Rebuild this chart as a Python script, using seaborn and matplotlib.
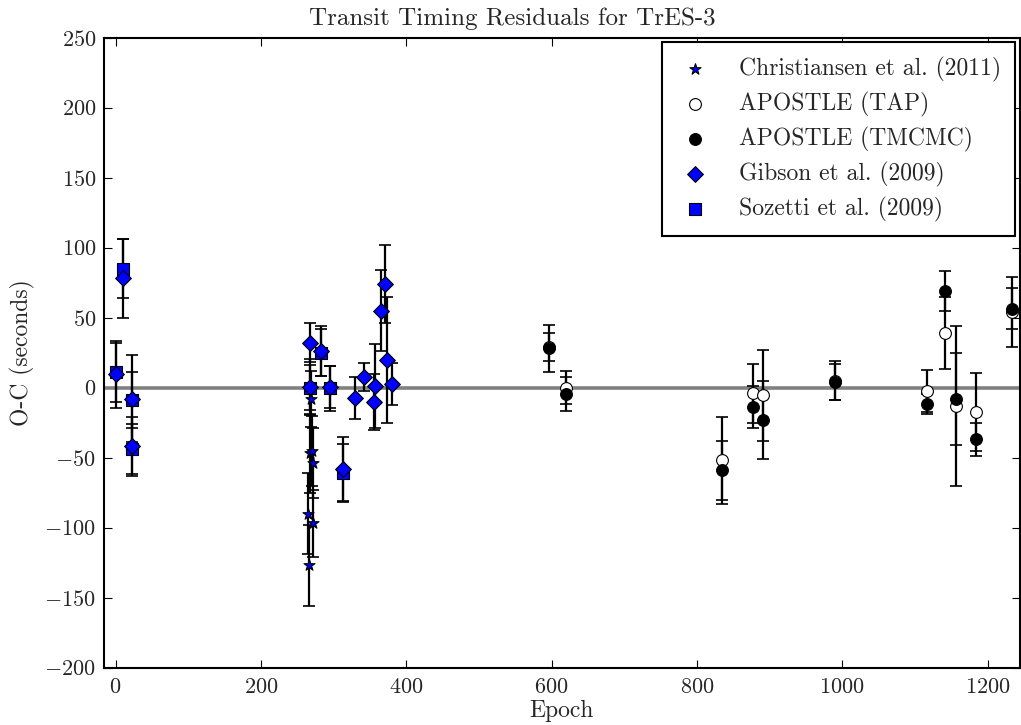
import numpy as np
import pandas as pd
import seaborn as sns
import matplotlib
matplotlib.use("Agg")
import matplotlib.pyplot as plt

# Christiansen et al. (2011)
chr_epoch = [265, 266, 268, 269, 270, 271, 272]
chr_oc = [-90, -127, -47, -8, -45, -97, -54]
chr_err = [29, 29, 28, 20, 25, 24, 25]

# APOSTLE (TAP)
tap_epoch = [597, 620, 835, 877, 891, 990, 1116, 1142, 1156, 1184, 1234]
tap_oc = [29, 0, -52, -4, -5.5, 5, -2.7, 39, -13, -17.5, 54]
tap_err = [10, 12, 31, 21, 32.5, 14, 15, 26, 57, 28, 25]

# APOSTLE (TMCMC)
mc_epoch = [597, 620, 835, 877, 891, 990, 1116, 1142, 1156, 1184, 1234]
mc_oc = [28, -4.5, -59, -13.5, -23, 4, -11.5, 69, -8, -37, 56.5]
mc_err = [17, 12, 21, 15, 28, 13, 7, 14, 33, 12, 14.5]

# Gibson et al. (2009)
gib_epoch = [0, 10, 23, 23, 267, 282, 268, 295, 313, 329, 342, 357, 355, 365, 371, 373, 381]
gib_oc = [9.5, 78, -8, -42, 32, 26, 0.5, 0.5, -58, -7.5, 7.5, 1.5, -10.5, 55, 74, 19.5, 2.5]
gib_err = [24, 28, 31, 21, 14, 18, 20, 15, 23, 15, 10, 30, 20, 29, 28, 45, 15]

# Sozetti et al. (2009)
soz_epoch = [0, 10, 23, 23, 268, 282, 295, 313]
soz_oc = [11, 85, -9, -44, 0, 25, -0.5, -61]
soz_err = [21, 21, 20, 18, 16, 17, 16, 21]

sns.set_style("ticks")
plt.rcParams['font.family'] = ['cmr10', 'DejaVu Serif']
plt.rcParams['mathtext.fontset'] = 'cm'
plt.rcParams['axes.formatter.use_mathtext'] = True
plt.rcParams['axes.unicode_minus'] = True

fig = plt.figure(figsize=(10.21, 7.25), dpi=100)
ax = fig.add_axes([0.1022, 0.079, 0.8964, 0.8692])

ax.axhline(0, color='gray', lw=2.6, zorder=1)

sets = [
    ("Sozetti et al. (2009)", soz_epoch, soz_oc, soz_err, 's', 'blue', 64),
    ("Gibson et al. (2009)", gib_epoch, gib_oc, gib_err, 'D', 'blue', 64),
    ("APOSTLE (TAP)", tap_epoch, tap_oc, tap_err, 'o', 'white', 72),
    ("APOSTLE (TMCMC)", mc_epoch, mc_oc, mc_err, 'o', 'black', 72),
    ("Christiansen et al. (2011)", chr_epoch, chr_oc, chr_err, '*', 'blue', 70),
]

handles = {}
for i, (name, ep, oc, err, mk, col, size) in enumerate(sets):
    ax.errorbar(ep, oc, yerr=err, fmt='none', ecolor='black', elinewidth=1.6,
                capsize=4.3, capthick=1.2, zorder=2)
    df = pd.DataFrame({"Epoch": ep, "OC": oc})
    sns.scatterplot(data=df, x="Epoch", y="OC", marker=mk, color=col, s=size,
                    edgecolor='black', linewidth=0.8, ax=ax, zorder=3 + i,
                    label=name, legend=False)
    handles[name] = ax.collections[-1]

order = ["Christiansen et al. (2011)", "APOSTLE (TAP)", "APOSTLE (TMCMC)",
         "Gibson et al. (2009)", "Sozetti et al. (2009)"]
leg = ax.legend([handles[n] for n in order], order, loc='upper right', fontsize=17,
                frameon=True, fancybox=False, framealpha=1, edgecolor='black',
                borderaxespad=0.2, handlelength=1.6, handletextpad=1.05,
                labelspacing=0.42, borderpad=0.6, scatterpoints=1)
leg.get_frame().set_linewidth(1.5)

ax.set_xlim(-15.5, 1244)
ax.set_ylim(-200, 250)
ax.set_xticks(np.arange(0, 1201, 200))
ax.set_yticks(np.arange(-200, 251, 50))
ax.tick_params(direction='in', top=True, right=True, length=6, width=0.8,
               labelsize=16, color='black')
ax.tick_params(axis='x', pad=7)
ax.tick_params(axis='y', pad=6)
for sp in ax.spines.values():
    sp.set_linewidth(1.5)
    sp.set_color('black')

ax.set_xlabel("Epoch", fontsize=17, labelpad=2)
ax.set_ylabel("O-C (seconds)", fontsize=17, labelpad=7)
fig.suptitle("Transit Timing Residuals for TrES-3", fontsize=18, x=0.5015, y=0.99)

fig.savefig("out.png", dpi=100)
